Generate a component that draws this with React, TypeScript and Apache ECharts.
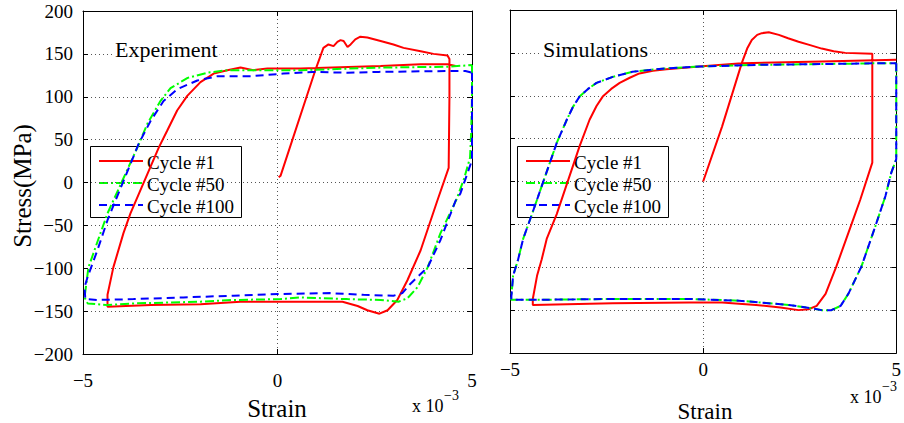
import React, { useEffect, useRef } from "react";
import * as echarts from "echarts";

const FONT = "Liberation Serif";

// strain in units of 1e-3, stress in MPa
const xTicks = [-5, 0, 5];
const yTicks = [-200, -150, -100, -50, 0, 50, 100, 150, 200];
const seriesNames = ["Cycle #1", "Cycle #50", "Cycle #100"];
const panelTitles = ["Experiment", "Simulations"];

const expCycle1: number[][] = [
  [0.03, 6], [0.08, 8], [0.98, 132], [1.18, 157], [1.31, 161], [1.44, 159], [1.54, 164],
  [1.62, 166], [1.7, 165], [1.8, 158], [1.88, 161], [2.0, 167], [2.13, 170], [2.31, 169],
  [2.65, 165], [2.98, 161], [3.24, 157], [3.68, 153], [4.01, 150], [4.37, 148], [4.42, 144],
  [4.42, 100], [4.4, 17], [4.11, -21], [3.68, -79], [3.34, -114], [3.08, -137], [2.83, -149],
  [2.62, -153], [2.31, -149], [2.06, -144], [1.67, -139], [1.0, -139], [0.08, -139],
  [-0.95, -139], [-1.98, -142], [-3.26, -143], [-4.37, -145], [-4.37, -131], [-4.22, -99],
  [-3.96, -59], [-3.78, -36], [-3.05, 41], [-2.84, 60], [-2.58, 84], [-2.32, 101],
  [-1.98, 117], [-1.64, 127], [-1.29, 131], [-0.95, 134], [-0.62, 131], [-0.26, 133],
  [0.59, 133], [2.65, 136], [3.68, 138], [4.37, 138], [4.58, 136],
];

const expCycle50: number[][] = [
  [5, 137], [5, 100], [4.98, 60], [4.95, 29], [4.8, 5], [4.6, -20], [4.19, -59], [3.86, -99],
  [3.6, -122], [3.34, -135], [3.11, -139], [2.65, -137], [1.8, -136], [0.59, -134],
  [0.08, -136], [-1.13, -137], [-1.98, -139], [-3.7, -141], [-4.37, -143], [-4.88, -141],
  [-4.96, -134], [-4.86, -99], [-4.55, -59], [-4.37, -36], [-3.6, 41], [-3.34, 69],
  [-3.01, 95], [-2.75, 110], [-2.31, 122], [-1.8, 128], [-1.29, 131], [0.59, 131],
  [2.65, 134], [4.37, 135], [5, 137],
];

const expCycle100: number[][] = [
  [5, 128], [5, 99], [5, 60], [5, 26], [4.7, -13], [4.58, -21], [4.19, -67], [3.86, -99],
  [3.42, -118], [3.21, -129], [2.98, -132], [2.21, -131], [1.36, -129], [0.08, -130],
  [-1.13, -132], [-2.42, -134], [-3.7, -136], [-4.63, -137], [-4.94, -136], [-4.96, -122],
  [-4.88, -110], [-4.63, -79], [-4.37, -44], [-3.57, 45], [-3.26, 72], [-2.93, 95],
  [-2.57, 109], [-2.06, 119], [-1.54, 124], [-0.69, 124], [0.15, 127], [0.9, 129],
  [1.8, 128], [2.6, 129], [4.37, 130], [4.83, 130], [5, 128],
];

const simCycle1: number[][] = [
  [0, 0], [0.49, 64], [1.0, 138], [1.14, 155], [1.26, 165], [1.4, 171], [1.52, 173],
  [1.7, 174], [1.96, 171], [2.2, 167], [2.47, 163], [2.77, 159], [3.07, 155], [3.38, 152],
  [3.68, 150], [4.38, 149], [4.38, 22], [4.07, -21], [3.84, -50], [3.45, -99], [3.17, -131],
  [2.94, -145], [2.73, -149], [2.47, -150], [2.0, -147], [1.37, -144], [0.49, -141],
  [-0.36, -141], [-2.34, -142], [-4.41, -144], [-4.41, -137], [-4.3, -110], [-4.18, -91],
  [-4.05, -67], [-3.79, -38], [-3.2, 41], [-2.94, 72], [-2.76, 88], [-2.6, 99], [-2.38, 108],
  [-2.16, 115], [-1.9, 121], [-1.65, 126], [-1.3, 129], [-0.95, 131], [-0.1, 134],
  [1.0, 138], [3.07, 140], [5.0, 142],
];

const simCycle50: number[][] = [
  [5, 138], [5, 26], [4.87, 10], [4.72, -17], [4.46, -52], [4.1, -99], [3.76, -131],
  [3.56, -145], [3.32, -150], [3.07, -150], [2.81, -148], [2.22, -144], [0.93, -139],
  [-0.36, -137], [-2.34, -137], [-4.41, -138], [-4.97, -138], [-4.95, -126], [-4.92, -110],
  [-4.79, -91], [-4.66, -67], [-4.43, -38], [-3.79, 45], [-3.53, 72], [-3.37, 87],
  [-3.2, 99], [-2.98, 108], [-2.76, 115], [-2.34, 122], [-1.83, 128], [-0.95, 132],
  [-0.1, 134], [1.37, 136], [4.79, 138], [5, 138],
];

const simCycle100: number[][] = [
  [5, 138], [5, 26], [4.87, 10], [4.72, -17], [4.46, -52], [4.1, -99], [3.76, -131],
  [3.56, -145], [3.32, -150], [3.07, -150], [2.81, -148], [2.22, -144], [0.93, -139],
  [-0.36, -137], [-2.34, -137], [-4.41, -138], [-4.97, -138], [-4.95, -126], [-4.92, -110],
  [-4.79, -91], [-4.66, -67], [-4.43, -38], [-3.79, 45], [-3.53, 72], [-3.37, 87],
  [-3.2, 99], [-2.98, 108], [-2.76, 115], [-2.34, 122], [-1.83, 128], [-0.95, 132],
  [-0.1, 134], [1.37, 136], [4.79, 138], [5, 138],
];

const COLORS = ["#ff0000", "#00ff00", "#0000ff"];
const DASHES: any[] = ["solid", [9, 3, 2, 3], [8, 5]];
const LEG_DASH: any[] = [null, [9, 3, 2, 3], [8, 5]];

const minus = (v: number) => (v < 0 ? "\u2212" + Math.abs(v) : String(v));

export default function App() {
  const ref = useRef<HTMLDivElement>(null);

  useEffect(() => {
    document.body.style.margin = "0";
    const chart = echarts.init(ref.current!, null, { renderer: "svg" });

    const grids = [
      { left: 83, top: 11, width: 389, height: 343 },
      { left: 510, top: 10, width: 388, height: 343 },
    ];

    const tick = { show: true, inside: true, length: 5, lineStyle: { color: "#000" } };
    const axisLine = { show: true, onZero: false, lineStyle: { color: "#000", width: 1 } };
    const splitLine = {
      show: true,
      showMinLine: false,
      showMaxLine: false,
      lineStyle: { color: "#555", type: [1, 3], width: 1 },
    };

    const xAxes: any[] = [];
    const yAxes: any[] = [];
    [0, 1].forEach((g) => {
      xAxes.push({
        type: "value", gridIndex: g, position: "bottom",
        min: xTicks[0], max: xTicks[xTicks.length - 1], interval: xTicks[1] - xTicks[0],
        axisLine, axisTick: tick, splitLine,
        axisLabel: {
          show: true, margin: g === 0 ? 17 : 7, color: "#000", fontFamily: FONT, fontSize: 19,
          formatter: minus,
        },
      });
      yAxes.push({
        type: "value", gridIndex: g, position: "left",
        min: yTicks[0], max: yTicks[yTicks.length - 1], interval: yTicks[1] - yTicks[0],
        axisLine, axisTick: tick, splitLine,
        axisLabel: {
          show: g === 0, margin: 10, color: "#000", fontFamily: FONT, fontSize: 19,
          formatter: minus,
        },
      });
    });
    [0, 1].forEach((g) => {
      xAxes.push({
        type: "value", gridIndex: g, position: "top",
        min: xTicks[0], max: xTicks[xTicks.length - 1], interval: xTicks[1] - xTicks[0],
        axisLine, axisTick: tick, splitLine: { show: false }, axisLabel: { show: false },
      });
      yAxes.push({
        type: "value", gridIndex: g, position: "right",
        min: yTicks[0], max: yTicks[yTicks.length - 1], interval: yTicks[1] - yTicks[0],
        axisLine, axisTick: tick, splitLine: { show: false }, axisLabel: { show: false },
      });
    });

    const panels = [
      [expCycle1, expCycle50, expCycle100],
      [simCycle1, simCycle50, simCycle100],
    ];
    const series: any[] = [];
    panels.forEach((sets, g) => {
      sets.forEach((data, i) => {
        series.push({
          type: "line",
          name: seriesNames[i],
          xAxisIndex: g,
          yAxisIndex: g,
          data,
          symbol: "none",
          showSymbol: false,
          smooth: false,
          z: 3 + i,
          lineStyle: { color: COLORS[i], width: 2, type: DASHES[i] },
          itemStyle: { color: COLORS[i] },
        });
      });
    });

    const legendBox = (x: number) => {
      const children: any[] = [
        {
          type: "rect",
          shape: { x: x + 0.5, y: 146.5, width: 151, height: 71 },
          style: { fill: "#fff", stroke: "#000", lineWidth: 1 },
        },
      ];
      seriesNames.forEach((name, i) => {
        const cy = 161 + i * 22;
        children.push({
          type: "line",
          shape: { x1: x + 9, y1: cy, x2: x + 53, y2: cy },
          style: { stroke: COLORS[i], lineWidth: 2, lineDash: LEG_DASH[i] },
        });
        children.push({
          type: "text",
          x: x + 57, y: cy + 1,
          style: { text: name, fontFamily: FONT, fontSize: 19, fill: "#000", verticalAlign: "middle" },
        });
      });
      return { type: "group", z: 20, children };
    };

    const titleText = (x: number, text: string) => ({
      type: "text", x, y: 49, z: 10,
      style: {
        text, fontFamily: FONT, fontSize: 22, fill: "#000", verticalAlign: "middle",
        backgroundColor: "#fff", padding: [0, 2, 0, 2],
      },
    });

    chart.setOption({
      animation: false,
      backgroundColor: "#fff",
      grid: grids,
      xAxis: xAxes,
      yAxis: yAxes,
      series,
      graphic: [
        titleText(113, panelTitles[0]),
        titleText(541, panelTitles[1]),
        legendBox(90),
        legendBox(517),
        {
          type: "text", x: 22, y: 186, rotation: Math.PI / 2,
          style: {
            text: "Stress(MPa)", fontFamily: FONT, fontSize: 25, fill: "#000",
            align: "center", verticalAlign: "middle",
          },
        },
        {
          type: "text", x: 277, y: 408,
          style: { text: "Strain", fontFamily: FONT, fontSize: 25, fill: "#000", align: "center", verticalAlign: "middle" },
        },
        {
          type: "text", x: 705, y: 411,
          style: { text: "Strain", fontFamily: FONT, fontSize: 23, fill: "#000", align: "center", verticalAlign: "middle" },
        },
        {
          type: "text", x: 412, y: 406,
          style: { text: "x 10", fontFamily: FONT, fontSize: 18, fill: "#000", verticalAlign: "middle" },
        },
        {
          type: "text", x: 444, y: 395,
          style: { text: "\u22123", fontFamily: FONT, fontSize: 14, fill: "#000", verticalAlign: "middle" },
        },
        {
          type: "text", x: 850, y: 397,
          style: { text: "x 10", fontFamily: FONT, fontSize: 18, fill: "#000", verticalAlign: "middle" },
        },
        {
          type: "text", x: 882, y: 386,
          style: { text: "\u22123", fontFamily: FONT, fontSize: 14, fill: "#000", verticalAlign: "middle" },
        },
      ],
    });

    return () => chart.dispose();
  }, []);

  return <div ref={ref} style={{ width: 904, height: 423 }} />;
}
